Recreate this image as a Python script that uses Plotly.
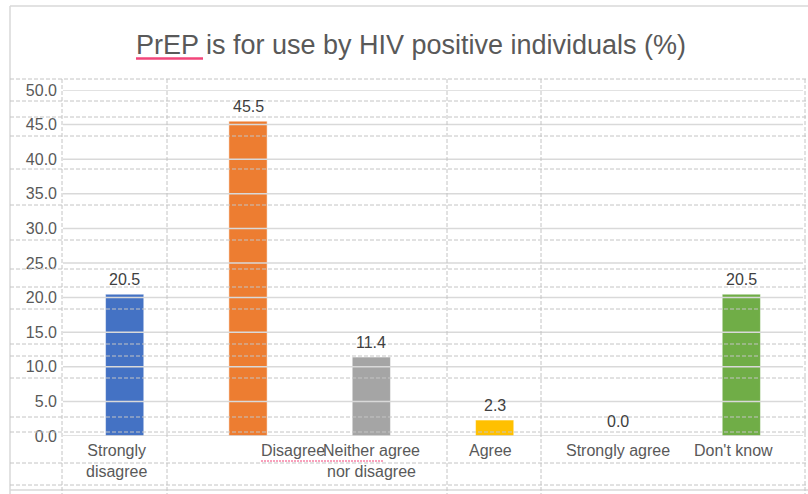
import plotly.graph_objects as go

# ---- data ----
CATEGORIES = ["Strongly disagree", "Disagree", "Neither agree nor disagree",
              "Agree", "Strongly agree", "Don't know"]
AXIS_LABELS = ["Strongly<br>disagree", "Disagree", "Neither agree<br>nor disagree",
               "Agree", "Strongly agree", "Don't know"]
VALUES = [20.5, 45.5, 11.4, 2.3, 0.0, 20.5]
Y_TICKS = [0, 5, 10, 15, 20, 25, 30, 35, 40, 45, 50]
TITLE = "PrEP is for use by HIV positive individuals (%)"

# ---- style ----
COLORS = ["#4472C4", "#ED7D31", "#A5A5A5", "#FFC000", "#5B9BD5", "#70AD47"]
LABEL_XSHIFT = [-8, 45, 0, -4, 0, -8]
FONT = "Liberation Sans, Arial, sans-serif"
W, H = 808, 494
ML, MR, MT, MB = 63, 5, 90, 58

# screenshot's spreadsheet cell grid (decorative, pixel positions)
SHEET_ROWS_PX = [79, 101, 117, 136, 169, 205, 240, 269, 287, 309, 344, 356,
                 378, 417, 432, 463, 485]
SHEET_COLS_PX = [62, 167, 447, 541, 805]


def px_x(p):
    return (p - ML) / (W - ML - MR)


def px_y(p):
    return (H - MB - p) / (H - MT - MB)


fig = go.Figure()
fig.add_trace(go.Bar(
    x=CATEGORIES, y=VALUES, width=0.31,
    marker=dict(color=COLORS, line=dict(color="rgba(255,255,255,0.5)", width=1)),
    hoverinfo="x+y", showlegend=False,
))

annotations = []
for cat, v in zip(CATEGORIES, VALUES):
    annotations.append(dict(
        x=cat, y=v, xref="x", yref="y", text=f"{v:.1f}", showarrow=False,
        yanchor="bottom", yshift=4,
        font=dict(family=FONT, size=16, color="#404040"),
    ))
for cat, lab, dx in zip(CATEGORIES, AXIS_LABELS, LABEL_XSHIFT):
    annotations.append(dict(
        x=cat, y=0, xref="x", yref="y", text=lab, showarrow=False,
        yanchor="top", yshift=-4, xshift=dx,
        font=dict(family=FONT, size=16, color="#595959"),
    ))

shapes = []
# chart-area border
shapes.append(dict(type="line", xref="paper", yref="paper",
                   x0=px_x(10), x1=px_x(W), y0=px_y(6), y1=px_y(6),
                   line=dict(color="#d9d9d9", width=1.5), layer="above"))
shapes.append(dict(type="line", xref="paper", yref="paper",
                   x0=px_x(10), x1=px_x(10), y0=px_y(6), y1=px_y(H),
                   line=dict(color="#d9d9d9", width=1.5), layer="above"))
shapes.append(dict(type="line", xref="paper", yref="paper",
                   x0=px_x(10), x1=px_x(W), y0=px_y(490), y1=px_y(490),
                   line=dict(color="#d9d9d9", width=1.5), layer="above"))
# value gridlines (drawn over the bars as in the reference)
for t in Y_TICKS:
    shapes.append(dict(type="line", xref="paper", yref="y",
                       x0=0, x1=1, y0=t, y1=t,
                       line=dict(color="#d9d9d9", width=1.5), layer="above"))
# spreadsheet dashed cell grid
for p in SHEET_ROWS_PX:
    shapes.append(dict(type="line", xref="paper", yref="paper",
                       x0=px_x(10), x1=px_x(W), y0=px_y(p), y1=px_y(p),
                       line=dict(color="#c4c4c4", width=1, dash="4px,2px"),
                       layer="above"))
for p in SHEET_COLS_PX:
    shapes.append(dict(type="line", xref="paper", yref="paper",
                       x0=px_x(p), x1=px_x(p), y0=px_y(79), y1=px_y(H),
                       line=dict(color="#c4c4c4", width=1, dash="4px,2px"),
                       layer="above"))
# spell-check underlines
shapes.append(dict(type="line", xref="paper", yref="paper",
                   x0=px_x(136), x1=px_x(203), y0=px_y(58.5), y1=px_y(58.5),
                   line=dict(color="#f2457a", width=2.5), layer="above"))
shapes.append(dict(type="line", xref="paper", yref="paper",
                   x0=px_x(261), x1=px_x(383), y0=px_y(461), y1=px_y(461),
                   line=dict(color="#f2457a", width=1.2, dash="2px,1px"), layer="above"))

fig.update_layout(
    width=W, height=H,
    margin=dict(l=ML, r=MR, t=MT, b=MB, pad=0),
    paper_bgcolor="white", plot_bgcolor="white",
    title=dict(text=TITLE, x=411 / W, y=1 - 45 / H, xanchor="center",
               yanchor="middle", xref="container", yref="container",
               font=dict(family=FONT, size=27, color="#595959")),
    xaxis=dict(range=[-0.5, 5.5], showticklabels=False, showgrid=False,
               zeroline=False, showline=False, ticks="", fixedrange=True),
    yaxis=dict(range=[0, 50], tickvals=Y_TICKS, tickformat=".1f",
               showgrid=False, zeroline=False, showline=False, ticks="",
               ticklabelstandoff=5,
               tickfont=dict(family=FONT, size=16, color="#595959")),
    annotations=annotations,
    shapes=shapes,
    bargap=0.69,
)

fig.write_html("out.html",
               config={"displayModeBar": False},
               post_script="document.body.style.margin='0px';"
                           "document.body.style.overflow='hidden';")
